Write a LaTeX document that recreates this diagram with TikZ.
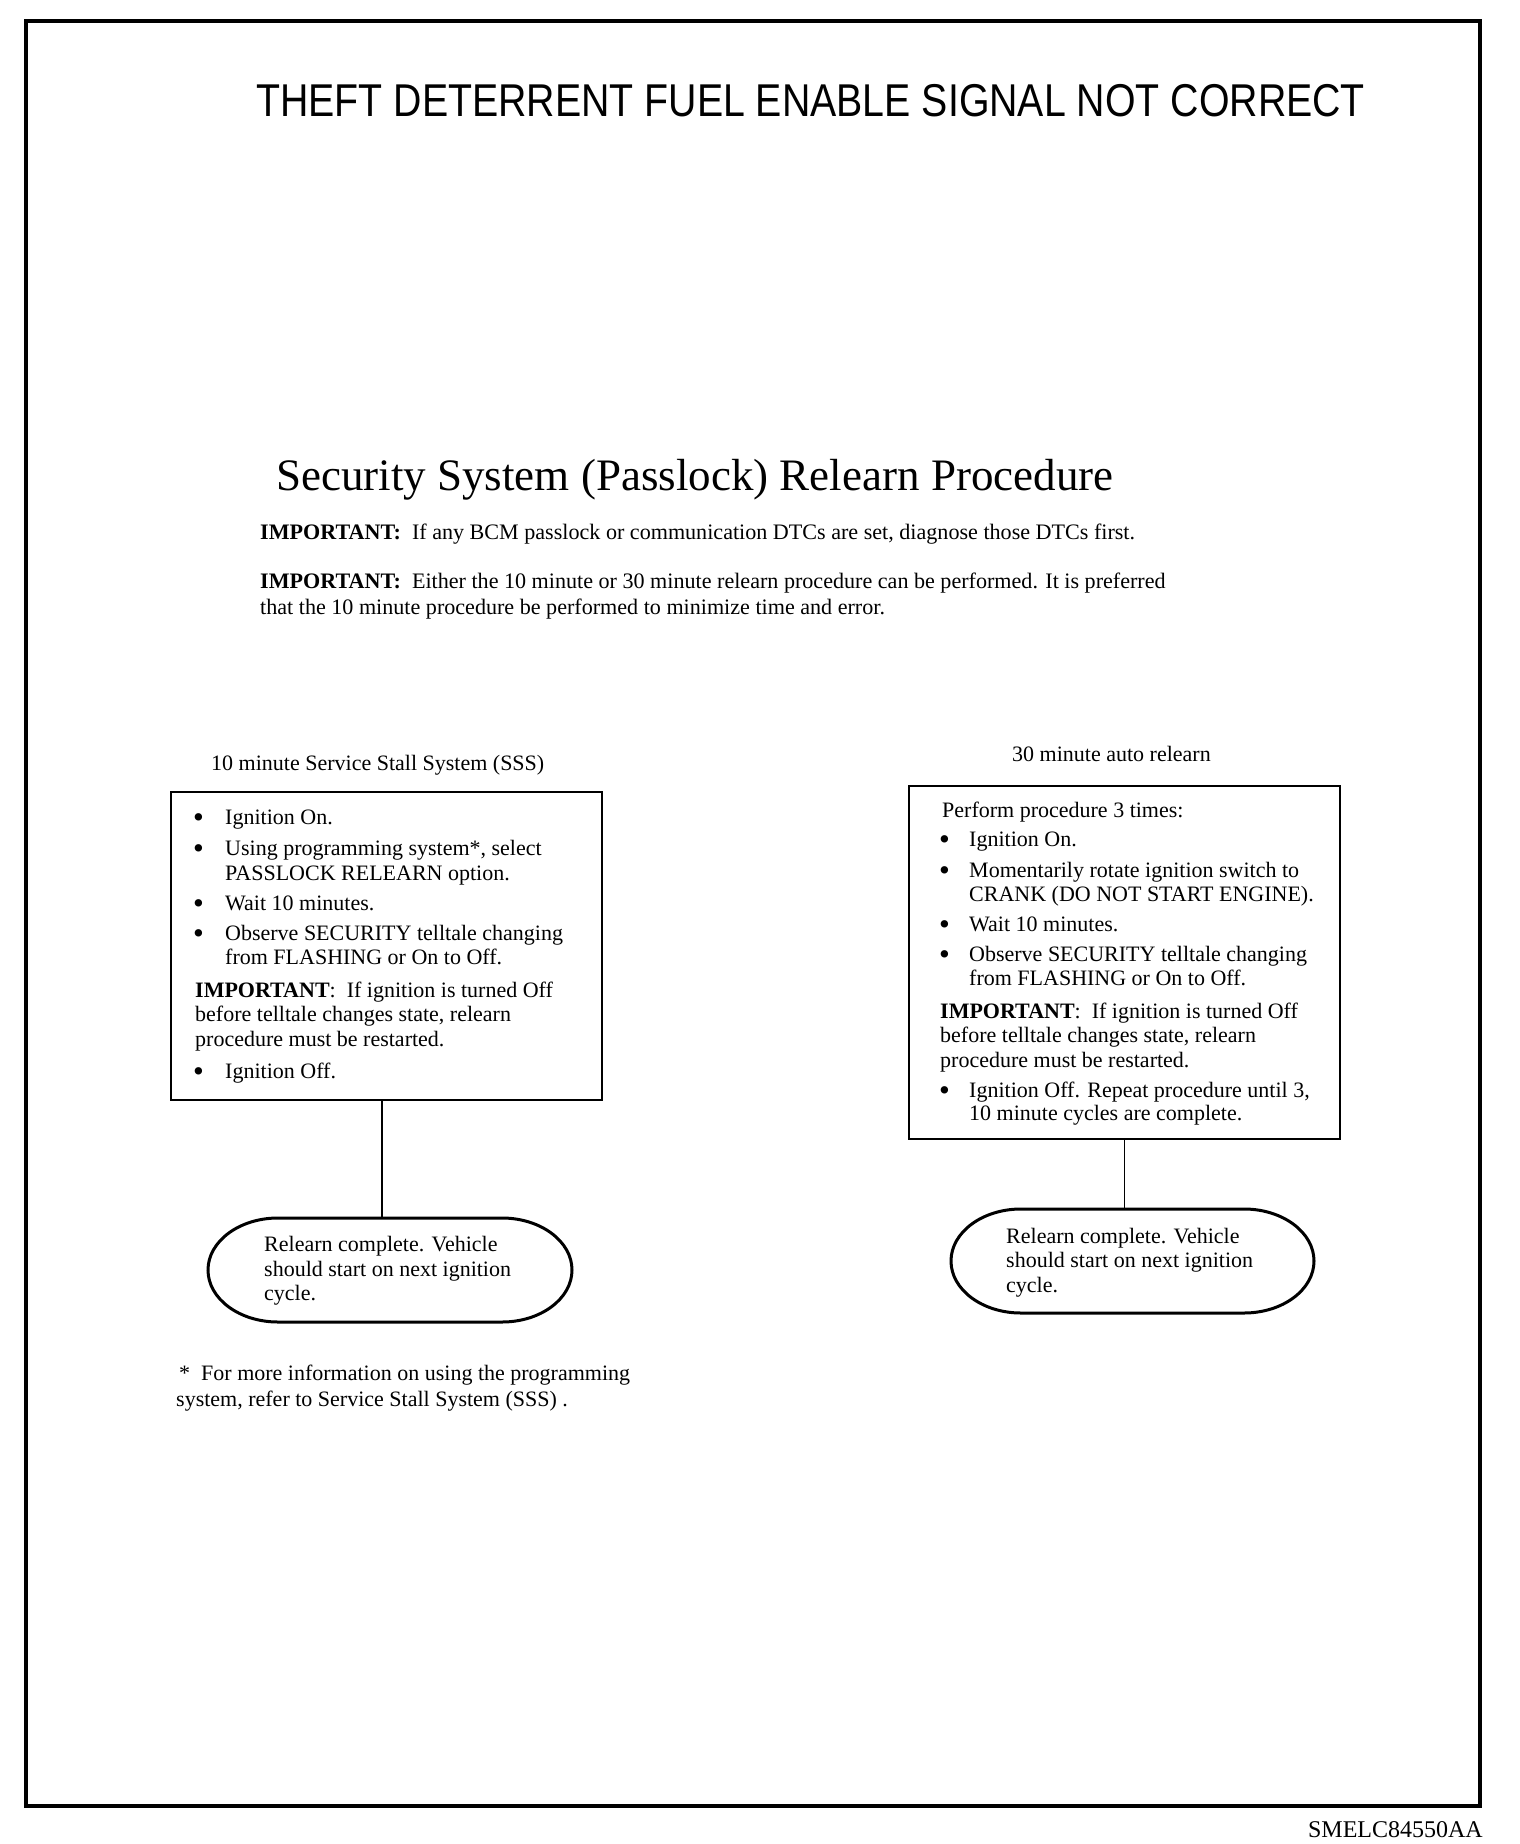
\documentclass[tikz,border=0pt]{standalone}
\usepackage{fontspec}
\setmainfont{Liberation Serif}
\newfontfamily\hsans{Liberation Sans}
\newcommand{\bulsym}{\raisebox{-3pt}{\scalebox{1.4}{\textbullet}}}
\begin{document}
\begin{tikzpicture}[x=1pt,y=-1pt,
 txt/.style={anchor=base west, inner sep=0pt, font=\fontsize{22}{26}\selectfont},
 hdr/.style={anchor=base west, inner sep=0pt, font=\fontsize{22.1}{26}\selectfont},
 bul/.style={anchor=base west, inner sep=0pt, font=\fontsize{22}{26}\selectfont},
 procbox/.style={draw, line width=1.8pt, inner sep=0pt},
 termline/.style={line width=3pt},
 conn/.style={line width=1.8pt}]

\useasboundingbox (0,0) rectangle (1520,1844);
\draw[line width=3.5pt] (26,21) rectangle (1480,1806);

% titles
\node[anchor=base west, inner sep=0pt, font=\hsans\fontsize{46}{50}\selectfont] (title) at (256,116)
  {\scalebox{0.854}[1]{THEFT DETERRENT FUEL ENABLE SIGNAL NOT CORRECT}};
\node[anchor=base west, inner sep=0pt, font=\fontsize{45}{50}\selectfont] (sub) at (276,490)
  {Security System (Passlock) Relearn Procedure};
\node[hdr] (imp1) at (260,539) {\textbf{IMPORTANT:}\ \ If any BCM passlock or communication DTCs are set, diagnose those DTCs first.};
\node[hdr] (imp2) at (260,588) {\textbf{IMPORTANT:}\ \ Either the 10 minute or 30 minute relearn procedure can be performed. It is preferred};
\node[hdr] (imp3) at (260,614) {that the 10 minute procedure be performed to minimize time and error.};

% column labels
\node[txt] (lhead) at (211,770) {10 minute Service Stall System (SSS)};
\node[txt] (rhead) at (1012,761) {30 minute auto relearn};

% boxes
\node[procbox, minimum width=431pt, minimum height=308pt] (lbox) at (386.5,946) {};
\node[procbox, minimum width=431pt, minimum height=353pt] (rbox) at (1124.5,962.5) {};

% left box text
\node[bul] (lb1) at (193,824) {\bulsym};
\node[txt] (lt1) at (225,824) {Ignition On.};
\node[bul] (lb2) at (193,855) {\bulsym};
\node[txt] (lt2) at (225,855) {Using programming system*, select};
\node[txt] (lt3) at (225,880) {PASSLOCK RELEARN option.};
\node[bul] (lb3) at (193,910) {\bulsym};
\node[txt] (lt4) at (225,910) {Wait 10 minutes.};
\node[bul] (lb4) at (193,940) {\bulsym};
\node[txt] (lt5) at (225,940) {Observe SECURITY telltale changing};
\node[txt] (lt6) at (225,964) {from FLASHING or On to Off.};
\node[txt] (lt7) at (195,997) {\textbf{IMPORTANT}:\ \ If ignition is turned Off};
\node[txt] (lt8) at (195,1021) {before telltale changes state, relearn};
\node[txt] (lt9) at (195,1046) {procedure must be restarted.};
\node[bul] (lb5) at (193,1078) {\bulsym};
\node[txt] (lt10) at (225,1078) {Ignition Off.};

% right box text
\node[txt] (rt0) at (942,817) {Perform procedure 3 times:};
\node[bul] (rb1) at (939,846) {\bulsym};
\node[txt] (rt1) at (969,846) {Ignition On.};
\node[bul] (rb2) at (939,877) {\bulsym};
\node[txt] (rt2) at (969,877) {Momentarily rotate ignition switch to};
\node[txt] (rt3) at (969,901) {CRANK (DO NOT START ENGINE).};
\node[bul] (rb3) at (939,931) {\bulsym};
\node[txt] (rt4) at (969,931) {Wait 10 minutes.};
\node[bul] (rb4) at (939,961) {\bulsym};
\node[txt] (rt5) at (969,961) {Observe SECURITY telltale changing};
\node[txt] (rt6) at (969,985) {from FLASHING or On to Off.};
\node[txt] (rt7) at (940,1018) {\textbf{IMPORTANT}:\ \ If ignition is turned Off};
\node[txt] (rt8) at (940,1042) {before telltale changes state, relearn};
\node[txt] (rt9) at (940,1067) {procedure must be restarted.};
\node[bul] (rb5) at (939,1097) {\bulsym};
\node[txt] (rt10) at (969,1097) {Ignition Off. Repeat procedure until 3,};
\node[txt] (rt11) at (969,1120) {10 minute cycles are complete.};

% terminals (named anchors + elliptical-ended outline)
\node[inner sep=0pt, minimum width=364pt, minimum height=104pt] (lterm) at (390,1270) {};
\node[inner sep=0pt, minimum width=363pt, minimum height=104pt] (rterm) at (1132.5,1261) {};
\draw[termline] (278,1218) -- (502,1218) arc[start angle=-90, end angle=90, x radius=70, y radius=52]
  -- (278,1322) arc[start angle=90, end angle=270, x radius=70, y radius=52] -- cycle;
\draw[termline] (1021,1209) -- (1244,1209) arc[start angle=-90, end angle=90, x radius=70, y radius=52]
  -- (1021,1313) arc[start angle=90, end angle=270, x radius=70, y radius=52] -- cycle;
\node[txt] (lx1) at (264,1251) {Relearn complete. Vehicle};
\node[txt] (lx2) at (264,1276) {should start on next ignition};
\node[txt] (lx3) at (264,1300) {cycle.};
\node[txt] (rx1) at (1006,1243) {Relearn complete. Vehicle};
\node[txt] (rx2) at (1006,1267) {should start on next ignition};
\node[txt] (rx3) at (1006,1292) {cycle.};

% connectors
\coordinate (lc) at (382,0);
\draw[conn] (lbox.south -| lc) -- (lterm.north -| lc);
\draw[conn] (rbox.south) -- (rbox.south |- rterm.north);

% footnote
\node[txt] (fn1) at (179,1380) {*\ \ For more information on using the programming};
\node[txt] (fn2) at (176,1406) {system, refer to Service Stall System (SSS) .};

% figure code
\node[anchor=base east, inner sep=0pt, font=\fontsize{24}{28}\selectfont] (code) at (1483,1837) {SMELC84550AA};
\end{tikzpicture}
\end{document}
